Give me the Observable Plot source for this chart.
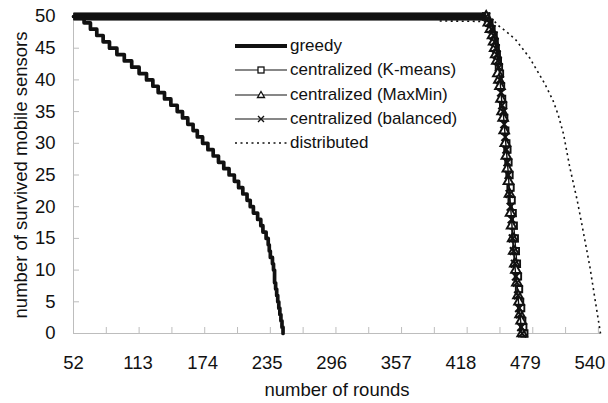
<!DOCTYPE html>
<html><head><meta charset="utf-8">
<script src="https://cdn.jsdelivr.net/npm/d3@7"></script>
<script src="https://cdn.jsdelivr.net/npm/@observablehq/plot@0.6"></script>
<style>
body{margin:0;background:#fff;}
#wrap{position:relative;width:608px;height:403px;font-family:"Liberation Sans",Arial,sans-serif;}
#legend{position:absolute;left:235px;top:34px;}
.row{display:flex;align-items:center;height:24.3px;font-size:17px;color:#111;white-space:nowrap;}
.row svg{display:block;margin-right:2px;}
</style></head><body><div id="wrap"><div id="legend"></div></div>
<script>
// ---- data ----
const seriesNames = ["greedy", "centralized (K-means)", "centralized (MaxMin)", "centralized (balanced)", "distributed"];

const xDomain = [52, 550];
const xTickLabels = [52, 113, 174, 235, 296, 357, 418, 479, 540];
const xTickMarks = [52, 83, 114, 145, 176, 207, 238, 269, 300, 331, 362, 393, 424, 455, 486, 517, 548];
const yTicks = [0, 5, 10, 15, 20, 25, 30, 35, 40, 45, 50];

const greedyRounds = [52, 62, 68, 74, 80, 86, 93, 100, 107, 114, 121, 127, 132, 138, 144, 150, 155, 160, 165, 169, 174, 179, 184, 189, 194, 199, 204, 208, 212, 216, 219, 222, 226, 229, 231, 234, 236, 237, 238, 240, 241, 242, 243, 244, 245, 246, 247, 248, 249, 250];
const greedyCounts = [50, 49, 48, 47, 46, 45, 44, 43, 42, 41, 40, 39, 38, 37, 36, 35, 34, 33, 32, 31, 30, 29, 28, 27, 26, 25, 24, 23, 22, 21, 20, 19, 18, 17, 16, 15, 14, 13, 12, 11, 10, 8, 7, 6, 5, 4, 3, 2, 1, 0];

const kmeansRounds = [52, 442, 445, 447, 449, 450, 451, 452, 453, 454, 455, 456, 457, 458, 459, 460, 461, 462, 463, 464, 465, 466, 467, 468, 469, 470, 471, 472, 473, 474, 475, 476, 477, 478];
const kmeansCounts = [50, 50, 49, 48, 47, 46, 45, 44, 43, 42, 41, 39, 37, 36, 34, 32, 30, 29, 27, 25, 23, 21, 19, 17, 15, 13, 11, 9, 7, 5, 4, 2, 1, 0];

const maxminRounds = [52, 442, 444, 446, 448, 449, 450, 451, 452, 453, 454, 455, 456, 457, 458, 459, 460, 461, 462, 463, 464, 465, 466, 467, 468, 469, 470, 471, 472, 473, 474, 475, 476];
const maxminCounts = [50, 50, 49, 48, 47, 46, 45, 44, 43, 41, 40, 39, 37, 35, 34, 32, 30, 28, 26, 24, 22, 19, 17, 15, 13, 11, 10, 8, 6, 5, 3, 2, 0];

const balancedRounds = [52, 442, 445, 447, 449, 450, 451, 452, 453, 454, 455, 456, 457, 458, 459, 460, 461, 462, 463, 464, 465, 466, 467, 468, 469, 470, 471, 472, 473, 474, 475, 476];
const balancedCounts = [50, 50, 49, 48, 47, 46, 45, 44, 43, 42, 40, 38, 36, 35, 33, 31, 29, 27, 25, 22, 20, 18, 15, 13, 11, 9, 8, 6, 4, 3, 1, 0];

const distributedRounds = [52, 394, 397, 450, 454, 458, 464, 470, 476, 483, 490, 497, 505, 510, 515, 521, 528, 534, 540, 545, 550];
const distributedCounts = [50, 50, 49.3, 49.2, 48.5, 48, 47.2, 46.3, 45, 43.5, 41.5, 39.5, 36.8, 34.5, 31.5, 26.2, 21, 15.8, 10.5, 5.2, 0];

// ---- tables ----
const toRows = (rs, cs) => rs.map((r, i) => ({round: r, count: cs[i]}));
const greedy = toRows(greedyRounds, greedyCounts);
const kmeans = toRows(kmeansRounds, kmeansCounts);
const maxmin = toRows(maxminRounds, maxminCounts);
const balanced = toRows(balancedRounds, balancedCounts);
const distributed = toRows(distributedRounds, distributedCounts);

const ink = "#111";
const axisGray = "#bdbdbd";
const full = (rows) => rows.filter(d => d.count === 50);   // long run of dense markers at the top
const drop = (rows) => rows.filter((d, i) => i > 0);

function central(rows, symbol) {
  return [
    Plot.line(full(rows), {x: "round", y: "count", stroke: ink, strokeWidth: 7.5, strokeLinecap: "butt"}),
    Plot.line(rows, {x: "round", y: "count", stroke: ink, strokeWidth: 1.4}),
    Plot.dot(drop(rows), {x: "round", y: "count", symbol, r: 3.6, fill: symbol === "times" ? "none" : "white", stroke: ink, strokeWidth: 1.9})
  ];
}

const chart = Plot.plot({
  width: 608, height: 403,
  marginLeft: 73, marginRight: 8, marginTop: 16, marginBottom: 70,
  style: {fontFamily: "Liberation Sans, Arial, sans-serif", fontSize: "18.5px", color: ink, background: "white"},
  x: {domain: xDomain},
  y: {domain: [0, 50]},
  marks: [
    Plot.ruleY([0], {stroke: axisGray}),
    Plot.ruleX([xDomain[0]], {stroke: axisGray}),
    Plot.axisX({ticks: xTickMarks, tickSize: -6, tickFormat: () => "", stroke: axisGray, label: null}),
    Plot.axisX({ticks: xTickLabels, tickSize: 0, tickPadding: 22, label: null}),
    Plot.axisX({ticks: [], label: "number of rounds", labelAnchor: "center", labelOffset: 62, labelArrow: "none"}),
    Plot.axisY({ticks: yTicks, tickSize: -6, tickFormat: () => "", stroke: axisGray, label: null}),
    Plot.axisY({ticks: yTicks, tickSize: 0, tickPadding: 18, label: "number of survived mobile sensors", labelAnchor: "center", labelOffset: 60, labelArrow: "none"}),
    Plot.line(greedy, {x: "round", y: "count", curve: "step-after", stroke: ink, strokeWidth: 3.7}),
    ...central(kmeans, "square"),
    ...central(maxmin, "triangle"),
    ...central(balanced, "times"),
    Plot.line(distributed, {x: "round", y: "count", stroke: ink, strokeWidth: 1.6, strokeDasharray: "2,3.5", strokeLinecap: "butt"})
  ]
});
document.getElementById("wrap").prepend(chart);

// ---- legend ----
const legend = document.getElementById("legend");
const swatch = [
  `<line x1="0" y1="12" x2="52" y2="12" stroke="${ink}" stroke-width="4"/>`,
  `<line x1="0" y1="12" x2="52" y2="12" stroke="${ink}" stroke-width="1.2"/><rect x="23" y="9" width="6" height="6" fill="white" stroke="${ink}" stroke-width="1.3"/>`,
  `<line x1="0" y1="12" x2="52" y2="12" stroke="${ink}" stroke-width="1.2"/><path d="M26,8.5 L29.5,14.5 L22.5,14.5 Z" fill="white" stroke="${ink}" stroke-width="1.3"/>`,
  `<line x1="0" y1="12" x2="52" y2="12" stroke="${ink}" stroke-width="1.2"/><path d="M23,9 L29,15 M29,9 L23,15" stroke="${ink}" stroke-width="1.4"/>`,
  `<line x1="0" y1="12" x2="52" y2="12" stroke="${ink}" stroke-width="1.6" stroke-dasharray="2,3.5"/>`
];
seriesNames.forEach((name, i) => {
  const row = document.createElement("div");
  row.className = "row";
  row.innerHTML = `<svg width="53" height="24">${swatch[i]}</svg><span>${name}</span>`;
  legend.appendChild(row);
});
</script>
</body></html>
